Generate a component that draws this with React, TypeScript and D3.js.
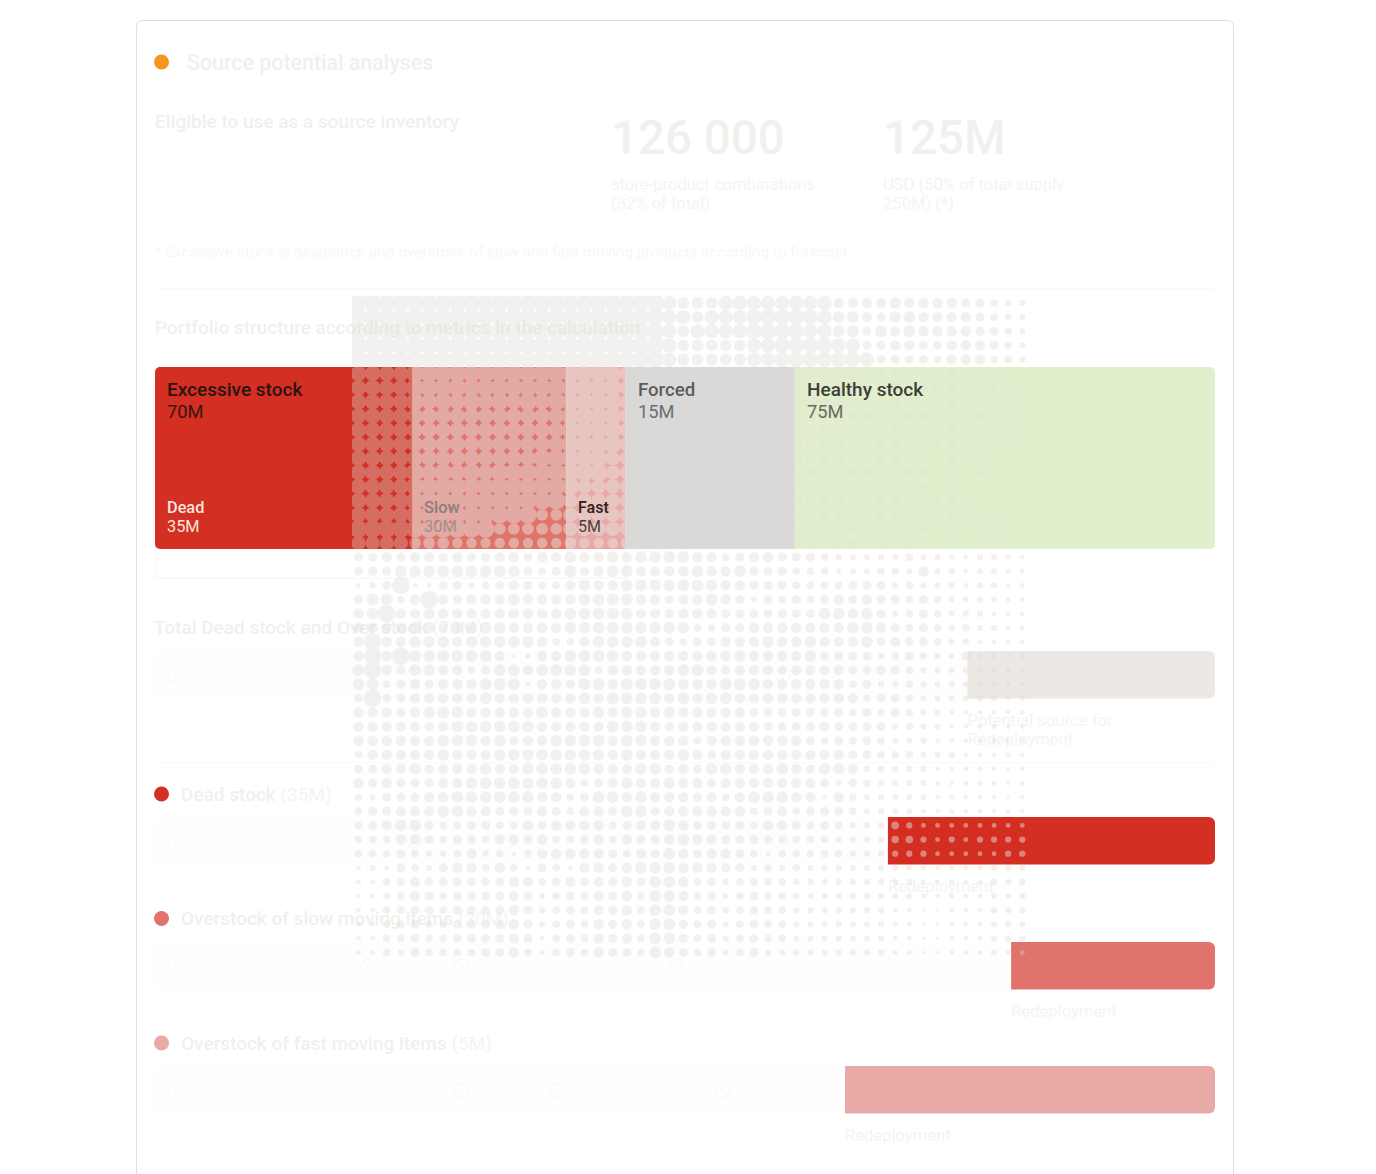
import React from 'react';
import * as d3 from 'd3';

const width = 1376;
const height = 1174;

// portfolio bar: share of the bar width (%) next to the labelled value
const portfolioNames = ['Dead', 'Slow', 'Fast', 'Forced', 'Healthy stock'];
const portfolioShares = [24.3, 14.5, 5.55, 16, 39.65];
const portfolioValues = ['35M', '30M', '5M', '15M', '75M'];
const portfolioColors = ['#d32f22', '#e0746c', '#e9a9a5', '#d9d9d9', '#e2efcd'];

// breakdown rows: cells left to right, the last one is the redeployment bar
const rowTitles = ['Total Dead stock and Over stock|(70M)', 'Dead stock|(35M)', 'Overstock of slow moving items|(30M)', 'Overstock of fast moving items|(5M)'];
const rowCells = [
  [15.85, 6.3, 17.96, 13.55, 16.34],
  [7.9, 3.1, 9, 4.2, 10.8],
  [5.46, 2.66, 6.06, 10.05, 5.77],
  [1.35, 0.45, 0.78, 0.675, 1.745],
];
const rowColors = ['#ece9e4', '#d32f22', '#e0746c', '#e9a9a5'];
const rowBarLabels = [['Potential source for', 'Redeployment'], ['Redeployment'], ['Redeployment'], ['Redeployment']];

// halftone texture, one string per row, one size level per dot
const dotLevels = ['1', '2', '3', '4', '5', '6', '7', '8', 'm', '9'];
const dotRadii = [1.7, 2.4, 3.1, 3.8, 4.5, 5.2, 5.9, 7.2, 7.8, 8.8];
const dotRows = [
  '999999 999999 999999 999987 778888 888866 667666 655433',
  '999999 999999 999999 999988 7888mm mmm877 657766 665433',
  '999999 999999 999999 999987 8888mm mm8877 576766 665543',
  '999999 999999 999999 999987 777788 mmmm88 556655 666543',
  '999999 999999 999999 999987 777788 mmmmmm 855554 666443',
  'mmmm99 999999 999999 988888 778888 888888 655556 665433',
  'mmmm99 999999 999999 988888 778888 888887 665566 665433',
  'mmmm9m 9m9m9m 9m9999 988888 778887 888877 656656 665433',
  'mmmmmm mmmmmm mmm999 988888 888877 887776 566655 654433',
  'mmmmmm mmmmmm mmm999 988888 887777 777766 665655 654433',
  'mmmmmm mmmmmm mmm999 988888 777787 777765 566655 554333',
  'mmmmmm mmmmmm m99999 888888 877777 876665 566554 544333',
  'mmmm9m 9m9m99 999999 888888 777778 766665 655654 544333',
  'mmmm99 999999 999988 888888 787777 776655 565544 543333',
  'mmmm99 999999 999888 888888 777877 766565 555544 443333',
  'mmmm99 999999 977888 888888 777777 665656 554544 443322',
  '999999 999977 777888 888888 677776 655655 455443 433322',
  '888877 766666 666766 677777 777666 655555 454433 333322',
  '556566 565566 566766 767777 664566 555433 333433 223322',
  '555777 777777 545756 776666 766755 544423 344363 323322',
  '235922 553456 544676 677777 776655 544445 553433 323322',
  '577469 656667 666677 776656 676535 454565 655454 333322',
  '679667 666666 666777 776656 665555 555776 753454 333222',
  '666677 677776 666777 777777 445566 666667 765454 343322',
  '696677 767777 764467 777654 556667 667666 756554 332222',
  '696977 777761 366777 766666 666766 667555 534543 353322',
  '796577 664577 677774 666667 765666 566665 565433 333322',
  '774565 666777 266577 677776 667776 666664 533433 333322',
  '595566 666766 666676 777767 677666 666666 455433 333322',
  '666567 776666 676667 677676 666655 555554 545433 222222',
  '666665 677777 766666 777656 666665 555655 553433 222222',
  '666666 777675 667777 677666 466666 665454 543332 222222',
  '466666 766677 777777 676667 656666 666665 544433 322222',
  '556675 666766 777776 667756 577666 765776 343332 222212',
  '656555 667777 777645 676676 656666 666535 433332 222222',
  '435556 677777 766457 767666 564677 766264 333332 222212',
  '455666 776655 565466 577566 666645 645554 333322 222222',
  '456775 445544 656666 456676 555546 654543 334322 222222',
  '444665 455466 564456 465567 665555 444433 334432 323333',
  '444543 346342 466666 546576 566542 444443 333332 222233',
  '232543 566464 254266 567776 665534 343333 333322 222333',
  '224465 555556 645656 565776 453454 433333 333322 222333',
  '224465 455556 534546 564776 453454 433333 333322 222333',
  '224455 455556 534546 564776 453454 433333 332211 222333',
  '224454 455556 534546 564775 453454 433333 332211 222333',
  '224454 455556 524546 564775 453454 433333 332211 222333',
  '224354 444556 424546 554765 453453 333333 332211 222322',
].map(row => row.replace(/ /g, ''));

const font = "Roboto, sans-serif";
const faint = '#f1f0ec';
const fainter = '#f5f4f2';

const barLeft = 155;
const barRight = 1215;
const rowTops = [651, 817, 942, 1066];
const rowHeight = 47.5;
const legendRows = [794, 918.5, 1043];

// rect rounded only on the right side
const rightRounded = (x0: number, x1: number, y0: number, y1: number, r: number) => {
  const p = d3.path();
  p.moveTo(x0, y0);
  p.lineTo(x1 - r, y0);
  p.arcTo(x1, y0, x1, y0 + r, r);
  p.lineTo(x1, y1 - r);
  p.arcTo(x1, y1, x1 - r, y1, r);
  p.lineTo(x0, y1);
  p.closePath();
  return p.toString();
};

const InfoIcon = ({ x, y }: { x: number; y: number }) => (
  <g>
    <circle cx={x} cy={y} r={7} fill="none" stroke="#f9f9f8" strokeWidth={1.3} />
    <line x1={x} x2={x} y1={y - 3} y2={y + 3.5} stroke="#f9f9f8" strokeWidth={1.3} />
  </g>
);

const RowTitle = ({ x, y, title }: { x: number; y: number; title: string }) => {
  const [name, amount] = title.split('|');
  return (
    <text x={x} y={y} fontSize={19} fill={faint}>
      <tspan fontWeight={500}>{name}</tspan> <tspan fill={fainter}>{amount}</tspan>
    </text>
  );
};

export default function App() {
  const portfolioX = d3.scaleLinear().domain([0, d3.sum(portfolioShares)]).range([barLeft, barRight]);
  const portfolioStart = Array.from(d3.cumsum(portfolioShares)).map(v => portfolioX(v));
  const segStart = (i: number) => (i === 0 ? barLeft : portfolioStart[i - 1]);

  const dotX = d3.scalePoint<number>().domain(d3.range(48)).range([358.5, 1022.3]);
  const dotY = d3.scalePoint<number>().domain(d3.range(dotRows.length)).range([303, 952.5]);
  const dotR = d3.scaleOrdinal<string, number>().domain(dotLevels).range(dotRadii);

  const dots = dotRows.flatMap((row, r) => row.split('').map((level, c) => (
    <circle key={`${r}-${c}`} cx={dotX(c)} cy={dotY(r)} r={dotR(level)} />
  )));

  return (
    <svg width={width} height={height} viewBox={`0 0 ${width} ${height}`}
      style={{ position: 'absolute', left: 0, top: 0, display: 'block', fontFamily: font }}>
      <rect width={width} height={height} fill="#fff" />
      <rect x={136.5} y={20.5} width={1097} height={1200} rx={6} fill="#fff" stroke="#dedede" />

      {/* header */}
      <circle cx={161.5} cy={62} r={7.5} fill="#f7941d" />
      <text x={187} y={70} fontSize={21.4} fontWeight={500} fill={faint}>Source potential analyses</text>
      <text x={155} y={128} fontSize={19} fontWeight={500} fill={faint}>Eligible to use as a source inventory</text>
      <text x={611} y={154} fontSize={47.5} fontWeight={500} fill={faint}>126 000</text>
      <text x={883} y={154} fontSize={47.5} fontWeight={500} fill={faint}>125M</text>
      <text x={611} y={190} fontSize={16.6} fill={fainter}>store-product combinations</text>
      <text x={611} y={209} fontSize={16.6} fill={fainter}>(32% of total)</text>
      <text x={883} y={190} fontSize={16.6} fill={fainter}>USD (50% of total supply</text>
      <text x={883} y={209} fontSize={16.6} fill={fainter}>250M) (*)</text>
      <text x={155} y={257} fontSize={15.4} fill="#f8f7f6">* Excessive stock is deadstock and overstock of slow and fast moving products according to forecast</text>
      <line x1={barLeft} x2={barRight} y1={288.5} y2={288.5} stroke="#f9f9f8" />
      <text x={155} y={334} fontSize={19} fontWeight={500} fill={faint}>Portfolio structure according to metrics in the calculation</text>

      {/* portfolio bar */}
      <rect x={155.5} y={540} width={470} height={38} fill="none" stroke="#f5f5f4" />
      <clipPath id="portfolio-clip"><rect x={barLeft} y={367} width={barRight - barLeft} height={182} rx={5} /></clipPath>
      <g clipPath="url(#portfolio-clip)">
        {portfolioNames.map((name, i) => (
          <rect key={name} x={segStart(i)} y={367} width={portfolioX(portfolioShares[i]) - barLeft} height={182} fill={portfolioColors[i]} />
        ))}
      </g>

      {/* breakdown rows */}
      <line x1={barLeft} x2={barRight} y1={762.5} y2={762.5} stroke="#f9f9f8" />
      <RowTitle x={154} y={634} title={rowTitles[0]} />
      {rowTitles.slice(1).map((t, i) => (
        <g key={t}>
          <circle cx={161.5} cy={legendRows[i]} r={7.5} fill={rowColors[i + 1]} />
          <RowTitle x={181} y={legendRows[i] + 6.5} title={t} />
        </g>
      ))}
      {rowCells.map((cells, r) => {
        const x = d3.scaleLinear().domain([0, d3.sum(cells)]).range([barLeft, barRight]);
        const ends = Array.from(d3.cumsum(cells));
        const barStart = x(ends[cells.length - 2]);
        const top = rowTops[r];
        return (
          <g key={r}>
            {cells.slice(0, -1).map((_, c) => {
              const x0 = c === 0 ? barLeft : x(ends[c - 1]);
              return (
                <g key={c}>
                  <rect x={x0} y={top} width={x(ends[c]) - x0} height={rowHeight} fill="#fefefe" />
                  {c > 0 && <line x1={x0} x2={x0} y1={top} y2={top + rowHeight} stroke="#fbfbfb" />}
                  <InfoIcon x={x0 + 20} y={top + 24} />
                </g>
              );
            })}
            <path d={rightRounded(barStart, barRight, top, top + rowHeight, 6)} fill={rowColors[r]} />
            {rowBarLabels[r].map((l, k) => (
              <text key={l} x={barStart} y={top + 75 + k * 19} fontSize={16.6} fill={fainter}>{l}</text>
            ))}
          </g>
        );
      })}

      {/* halftone dots, group opacity so touching dots do not darken */}
      <clipPath id="dots-clip"><rect x={352} y={296} width={680} height={670} /></clipPath>
      <g clipPath="url(#dots-clip)">
        <g opacity={0.36} fill="#dcdad5">{dots}</g>
      </g>
      {/* dots read brighter on the pink and red bars */}
      <clipPath id="dots-bright-clip">
        <rect x={segStart(1)} y={367} width={segStart(3) - segStart(1)} height={182} />
        <rect x={888} y={817} width={144} height={47.5} />
      </clipPath>
      <g clipPath="url(#dots-bright-clip)">
        <g opacity={0.16} fill="#ffffff">{dots}</g>
      </g>
      {/* and they nearly vanish on the grey and green parts */}
      <rect x={segStart(3)} y={367} width={segStart(4) - segStart(3)} height={182} fill={portfolioColors[3]} opacity={0.5} />
      <rect x={segStart(4)} y={367} width={barRight - segStart(4) - 5} height={182} fill={portfolioColors[4]} opacity={0.6} />

      {/* portfolio labels */}
      <text x={167} y={396} fontSize={19} fontWeight={500} fill="#2a1410">Excessive stock</text>
      <text x={167} y={418} fontSize={18.3} fill="#3a1410">70M</text>
      <text x={167} y={513} fontSize={16.3} fontWeight={500} fill="#fbe4df">{portfolioNames[0]}</text>
      <text x={167} y={532} fontSize={16.3} fill="#fbe4df">{portfolioValues[0]}</text>
      <text x={424} y={513} fontSize={16.5} fontWeight={500} fill="#8d7f7c">{portfolioNames[1]}</text>
      <text x={424} y={532} fontSize={16.5} fill="#a08f8c">{portfolioValues[1]}</text>
      <text x={578} y={513} fontSize={16} fontWeight={500} fill="#2b2222">{portfolioNames[2]}</text>
      <text x={578} y={532} fontSize={16} fill="#4b3f3f">{portfolioValues[2]}</text>
      <text x={638} y={396} fontSize={18.6} fontWeight={500} fill="#5c5c5c">{portfolioNames[3]}</text>
      <text x={638} y={418} fontSize={18.3} fill="#6e6e6e">{portfolioValues[3]}</text>
      <text x={807} y={396} fontSize={19} fontWeight={500} fill="#3c3f38">{portfolioNames[4]}</text>
      <text x={807} y={418} fontSize={18.3} fill="#686c60">{portfolioValues[4]}</text>
    </svg>
  );
}
